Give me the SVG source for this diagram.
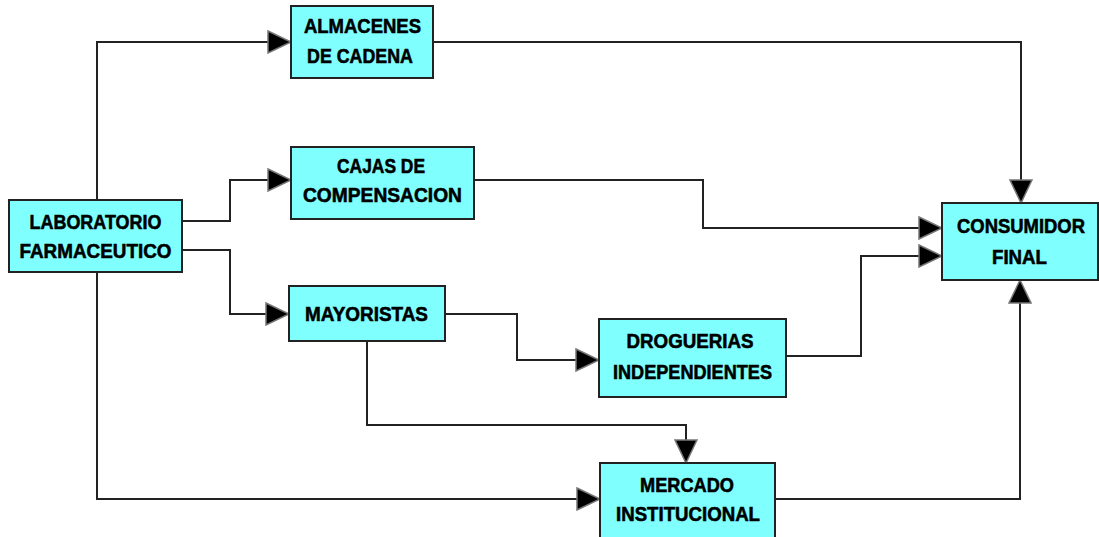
<svg xmlns="http://www.w3.org/2000/svg" width="1099" height="537" viewBox="0 0 1099 537">
<style>
.box{fill:#80FFFF;stroke:#222;stroke-width:2}
.lbl{font-family:"Liberation Sans",Arial,sans-serif;font-weight:bold;font-size:21px;fill:#000;stroke:#000;stroke-width:0.6;text-anchor:middle}
.con{fill:none;stroke:#222;stroke-width:2;marker-end:url(#ah)}
</style>
<defs>
<marker id="ah" markerUnits="userSpaceOnUse" markerWidth="26" markerHeight="24" refX="23" refY="11" orient="auto" viewBox="-1 -1 26 24">
<path d="M0,0 L23,11 L0,22 Z" fill="#000" stroke="#777" stroke-width="1.5"/>
</marker>
</defs>
<rect width="1099" height="537" fill="#fff"/>
<g id="connectors">
<path class="con" d="M97,200 V42 H291"/>
<path class="con" d="M182,221 H230 V180 H291"/>
<path class="con" d="M182,250 H230 V314 H289"/>
<path class="con" d="M97,272 V499 H600"/>
<path class="con" d="M433,42 H1021 V203"/>
<path class="con" d="M474,180 H703 V228 H942"/>
<path class="con" d="M445,314 H517 V360 H599"/>
<path class="con" d="M367,341 V425 H686 V463"/>
<path class="con" d="M786,356 H861 V256 H942"/>
<path class="con" d="M775,499 H1020 V280"/>
</g>
<g id="laboratorio">
<rect class="box" x="9" y="200" width="173" height="72"/>
<text class="lbl" x="95.5" y="229" textLength="132" lengthAdjust="spacingAndGlyphs">LABORATORIO</text>
<text class="lbl" x="95.5" y="258" textLength="152" lengthAdjust="spacingAndGlyphs">FARMACEUTICO</text>
</g>
<g id="almacenes">
<rect class="box" x="291" y="6" width="142" height="72"/>
<text class="lbl" x="362.5" y="33" textLength="117" lengthAdjust="spacingAndGlyphs">ALMACENES</text>
<text class="lbl" x="360" y="63" textLength="106" lengthAdjust="spacingAndGlyphs">DE CADENA</text>
</g>
<g id="cajas">
<rect class="box" x="291" y="147" width="183" height="72"/>
<text class="lbl" x="381" y="173" textLength="88" lengthAdjust="spacingAndGlyphs">CAJAS DE</text>
<text class="lbl" x="382.5" y="202" textLength="159" lengthAdjust="spacingAndGlyphs">COMPENSACION</text>
</g>
<g id="mayoristas">
<rect class="box" x="289" y="286" width="156" height="55"/>
<text class="lbl" x="366.5" y="321" textLength="123" lengthAdjust="spacingAndGlyphs">MAYORISTAS</text>
</g>
<g id="droguerias">
<rect class="box" x="599" y="319" width="187" height="78"/>
<text class="lbl" x="690" y="348" textLength="127" lengthAdjust="spacingAndGlyphs">DROGUERIAS</text>
<text class="lbl" x="692.5" y="379" textLength="159" lengthAdjust="spacingAndGlyphs">INDEPENDIENTES</text>
</g>
<g id="mercado">
<rect class="box" x="600" y="463" width="175" height="90"/>
<text class="lbl" x="687" y="492" textLength="94" lengthAdjust="spacingAndGlyphs">MERCADO</text>
<text class="lbl" x="688" y="521" textLength="144" lengthAdjust="spacingAndGlyphs">INSTITUCIONAL</text>
</g>
<g id="consumidor">
<rect class="box" x="942" y="203" width="156" height="77"/>
<text class="lbl" x="1021" y="233" textLength="128" lengthAdjust="spacingAndGlyphs">CONSUMIDOR</text>
<text class="lbl" x="1019.5" y="264" textLength="55" lengthAdjust="spacingAndGlyphs">FINAL</text>
</g>
</svg>
